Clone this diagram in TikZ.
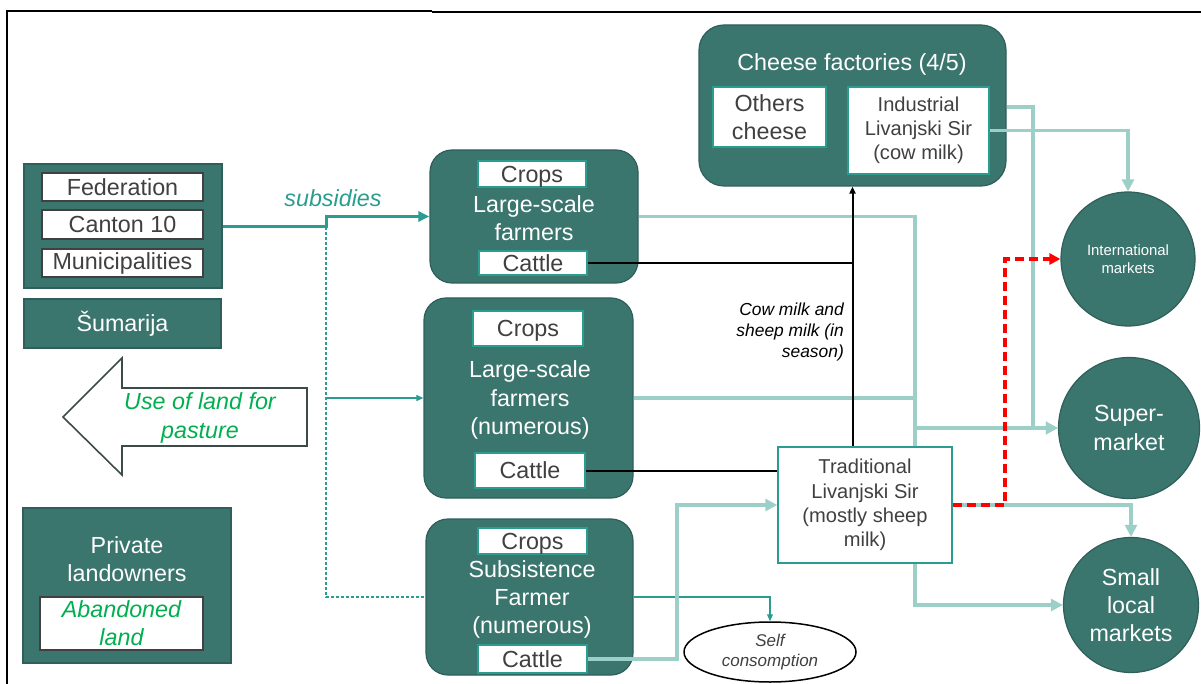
\documentclass[tikz,border=0pt]{standalone}
\usepackage{fontspec}
\setmainfont{Liberation Sans}
\usetikzlibrary{arrows.meta,shapes.geometric}

\definecolor{tealfill}{HTML}{3A756E}
\definecolor{tealedge}{HTML}{2F5F5A}
\definecolor{tealline}{HTML}{2A9D90}
\definecolor{lightline}{HTML}{9CCFC8}
\definecolor{txtgray}{HTML}{404040}
\definecolor{arrowgray}{HTML}{3C4A48}
\definecolor{landgreen}{HTML}{00B050}

\newcommand\szBig{\fontsize{23.3}{28.3}\selectfont}
\newcommand\szMid{\fontsize{20.1}{24.2}\selectfont}
\newcommand\szNote{\fontsize{17.4}{21}\selectfont}
\newcommand\szSelf{\fontsize{17}{19.5}\selectfont}
\newcommand\szSmall{\fontsize{14.9}{17.5}\selectfont}

\tikzset{
  darkbox/.style={draw=tealedge, line width=1.2pt, fill=tealfill, inner sep=0pt, text=white},
  farmbox/.style={darkbox, rounded corners=22pt},
  govitem/.style={draw=txtgray, line width=1.5pt, fill=white, inner sep=0pt, text=txtgray, font=\szBig},
  farmitem/.style={draw=tealline, line width=1.5pt, fill=white, inner sep=0pt, text=txtgray, font=\szBig, align=center},
  cropitem/.style={farmitem, text depth=0pt},
  whitelabel/.style={text=white, font=\szBig, align=center, inner sep=0pt},
  market/.style={circle, draw=tealedge, line width=1.2pt, fill=tealfill, text=white, inner sep=0pt, align=center},
  flow/.style={draw=lightline, line width=3.5pt},
  flowtip/.style={-{Triangle[length=12pt,width=12pt]}},
  subsidy/.style={draw=tealline, line width=3pt, -{Triangle[length=11pt,width=10pt]}},
  thinteal/.style={draw=tealline, line width=1.1pt},
  thintip/.style={-{Triangle[length=7pt,width=6pt]}},
  milkline/.style={draw=black, line width=2pt},
  reddash/.style={draw=red, line width=3.5pt, dash pattern=on 9pt off 5pt, -{Triangle[length=11pt,width=11pt]}},
}

\begin{document}
\begin{tikzpicture}[x=1pt,y=-1pt]
\useasboundingbox (0,0) rectangle (1201,684);

% frame
\draw[line width=1.3pt] (7,684) -- (7,11) -- (432,11);
\draw[line width=2pt] (432,12) -- (1201,12);

% public bodies
\node[darkbox, minimum width=198pt, minimum height=124pt] (gov) at (123,226) {};
\node[govitem, minimum width=161pt, minimum height=28pt] (fed) at (122.5,187) {Federation};
\node[govitem, minimum width=161pt, minimum height=29pt] (canton) at (122.5,224.5) {Canton 10};
\node[govitem, minimum width=161pt, minimum height=28pt] (muni) at (122.5,263) {Municipalities};
\node[darkbox, minimum width=197pt, minimum height=49pt, font=\szBig] (sum) at (122.5,323.5) {Šumarija};

% land-use arrow
\draw[draw=arrowgray, line width=1.6pt, fill=white]
  (63,417) -- (122,358) -- (122,388) -- (307,388) -- (307,446) -- (122,446) -- (122,475) -- cycle;
\node[text=landgreen, font=\szBig\itshape, align=center, inner sep=0pt] (landuse) at (200,418) {Use of land for\\pasture};

% private landowners
\node[darkbox, minimum width=208pt, minimum height=155pt] (priv) at (127,585.5) {};
\node[whitelabel] (privlbl) at (127,559) {Private\\landowners};
\node[draw=txtgray, line width=1.5pt, fill=white, minimum width=163pt, minimum height=53pt, inner sep=0pt,
      text=landgreen, font=\szBig\itshape, align=center] (aband) at (121.5,623.5) {Abandoned\\land};

% farmers
\node[farmbox, minimum width=208pt, minimum height=133pt] (farm1) at (534,216.5) {};
\node[cropitem, minimum width=108pt, minimum height=26pt] (crops1) at (532,174) {Crops};
\node[farmitem, minimum width=108pt, minimum height=24pt] (cattle1) at (533,263) {Cattle};
\node[whitelabel] (farm1lbl) at (534,218) {Large-scale\\farmers};

\node[farmbox, minimum width=209pt, minimum height=200pt] (farm2) at (528.5,398) {};
\node[cropitem, minimum width=110pt, minimum height=35pt] (crops2) at (528,328.5) {Crops};
\node[farmitem, minimum width=110pt, minimum height=35pt] (cattle2) at (530,470.5) {Cattle};
\node[whitelabel] (farm2lbl) at (530,400) {Large-scale\\farmers\\(numerous)};

\node[farmbox, minimum width=207pt, minimum height=156pt] (farm3) at (529.5,597) {};
\node[cropitem, minimum width=109pt, minimum height=26pt] (crops3) at (532.5,541) {Crops};
\node[farmitem, minimum width=109pt, minimum height=28pt] (cattle3) at (532.5,659) {Cattle};
\node[whitelabel] (farm3lbl) at (532,599.5) {Subsistence\\Farmer\\(numerous)};

% cheese factories
\node[farmbox, rounded corners=25pt, minimum width=307pt, minimum height=161pt] (cheese) at (852.5,105.5) {};
\node[whitelabel] (cheeselbl) at (852,64) {Cheese factories (4/5)};
\node[farmitem, minimum width=113pt, minimum height=60pt] (others) at (769.5,117) {Others\\cheese};
\node[farmitem, minimum width=141pt, minimum height=87pt, font=\szMid] (indus) at (918.5,130.5) {Industrial\\Livanjski Sir\\(cow milk)};

% traditional cheese
\node[draw=tealline, line width=1.5pt, fill=white, minimum width=174pt, minimum height=116pt, inner sep=0pt,
      text=txtgray, font=\szMid, align=center] (trad) at (865,505) {Traditional\\Livanjski Sir\\(mostly sheep\\milk)};

% self consumption
\node[ellipse, draw=black, line width=1.5pt, fill=white, minimum width=172pt, minimum height=60pt, inner sep=0pt,
      text=txtgray, font=\szSelf\itshape, align=center] (self) at (770,652) {Self\\consomption};

% markets
\node[market, minimum size=134pt, font=\szSmall] (intl) at (1128,259) {International\\markets};
\node[market, minimum size=141pt, font=\szBig] (super) at (1129,428) {Super-\\market};
\node[market, minimum size=135pt, font=\szBig] (small) at (1131,605) {Small\\local\\markets};

% labels
\node[text=tealline, font=\szBig\itshape, inner sep=0pt] (sublbl) at (333,198) {subsidies};
\node[anchor=east, align=right, font=\szNote\itshape, inner sep=0pt] (milklbl) at (844,332) {Cow milk and\\sheep milk (in\\season)};

% junction points
\coordinate (sj) at (326,227);
\coordinate (jx) at (915,428);
\coordinate (kx) at (1033,107);
\coordinate (rx) at (1005,505);
\coordinate (cx) at (677,659);

% subsidies
\draw[subsidy] (gov.east |- sj) -- (sj) -- (sj |- farm1.west) -- (farm1.west);
\draw[thinteal, dash pattern=on 3pt off 2pt] (sj) |- (farm3.west);
\draw[thinteal, thintip] (sj |- farm2.west) -- (farm2.west);
\draw[thinteal, thintip] (farm3.east) -| (self.north);

% product flows
\draw[flow] (farm1.east) -| (jx);
\draw[flow] (farm2.east) -| (jx);
\draw[flow] (trad.north -| jx) -- (jx);
\draw[flow, flowtip] (cheese.east |- kx) -- (kx) |- (super.west);
\draw[flow, flowtip] (jx) -- (super.west);
\draw[flow, flowtip] (indus.east) -| (intl.north);
\draw[flow, flowtip] (trad.south -| jx) |- (small.west);
\draw[flow, flowtip] (trad.east) -| (small.north);
\draw[flow, flowtip] (cattle3.east) -- (cx) |- (trad.west);
\draw[reddash] (trad.east) -- (rx) |- (intl.west);

% milk deliveries
\draw[milkline] (cattle1.east) -- (cattle1.east -| cheese.south);
\draw[milkline, -{Triangle[length=7pt,width=6pt]}] (trad.north -| cheese.south) -- (cheese.south);
\draw[milkline] (cattle2.east) -- (cattle2.east -| trad.west);
\end{tikzpicture}
\end{document}
